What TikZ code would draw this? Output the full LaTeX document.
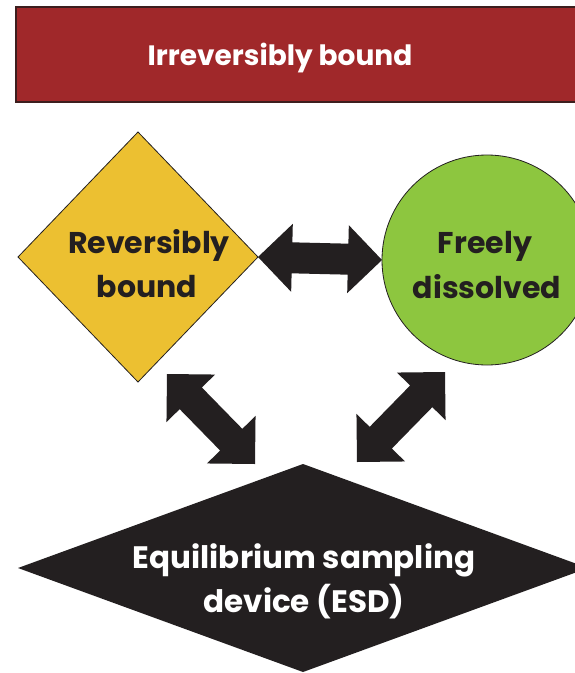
\documentclass[tikz,border=0pt]{standalone}
\usepackage{fontspec}
\setmainfont{Poppins}
\usetikzlibrary{shapes.geometric,calc}
\definecolor{bannerred}{HTML}{A0282A}
\definecolor{bannerline}{HTML}{3C1E1E}
\definecolor{diayellow}{HTML}{ECC031}
\definecolor{circgreen}{HTML}{8DC63F}
\definecolor{inkdark}{HTML}{231F20}
\newcommand\blockarrow[3]{%
  \path ($(#1)!34pt!(#2)$) coordinate (#3p) ($(#2)!34pt!(#1)$) coordinate (#3q);
  \fill[inkdark] (#1)
    -- ($(#3p)!34pt!90:(#2)$) -- ($(#3p)!15.5pt!90:(#2)$)
    -- ($(#3q)!15.5pt!-90:(#1)$) -- ($(#3q)!34pt!-90:(#1)$)
    -- (#2)
    -- ($(#3q)!34pt!90:(#1)$) -- ($(#3q)!15.5pt!90:(#1)$)
    -- ($(#3p)!15.5pt!-90:(#2)$) -- ($(#3p)!34pt!-90:(#2)$)
    -- cycle;}
\tikzset{
  lbl/.style={inner sep=0pt, anchor=base, font=\fontsize{30}{30}\selectfont\bfseries, text=inkdark},
  wlbl/.style={lbl, text=white, font=\fontsize{31}{31}\selectfont\bfseries},
  banlbl/.style={lbl, text=white, font=\fontsize{28}{28}\selectfont\bfseries},
  shapebox/.style={inner sep=0pt, outer sep=0pt}
}
\begin{document}
\begin{tikzpicture}[x=1pt,y=-1pt]
\useasboundingbox (0,0) rectangle (575,673);
\clip (0,0) rectangle (575,673);
\fill[white] (0,0) rectangle (575,673);
% banner
\node[shapebox, rectangle, fill=bannerred, draw=bannerline, line width=1.5pt,
      minimum width=584pt, minimum height=95pt] (banner) at (308,54.5) {};
\node[banlbl] (bantext) at (280,65) {Irreversibly bound};
% reversibly bound diamond
\node[shapebox, diamond, fill=diayellow, draw=inkdark, line width=0.8pt,
      minimum width=240pt, minimum height=250pt] (rev) at (138,257) {};
\node[lbl] (rev1) at (149,253) {Reversibly};
\node[lbl] (rev2) at (147,297) {bound};
% freely dissolved circle
\node[shapebox, circle, fill=circgreen, draw=inkdark, line width=0.8pt,
      minimum size=210pt] (free) at (487,260) {};
\node[lbl] (free1) at (485,253) {Freely};
\node[lbl] (free2) at (487,298) {dissolved};
% ESD
\node[shapebox, diamond, fill=inkdark, minimum width=570pt, minimum height=208pt] (esd) at (303,568) {};
\node[wlbl] (esd1) at (304,568) {Equilibrium sampling};
\node[wlbl] (esd2) at (304,612) {device (ESD)};
% arrows
\coordinate (la) at (167,374);
\coordinate (lb) at (255,464);
\coordinate (ra) at (445,372);
\coordinate (rb) at (357,462);
\blockarrow{rev.east}{free.west}{h}
\blockarrow{la}{lb}{l}
\blockarrow{ra}{rb}{r}
\end{tikzpicture}
\end{document}
